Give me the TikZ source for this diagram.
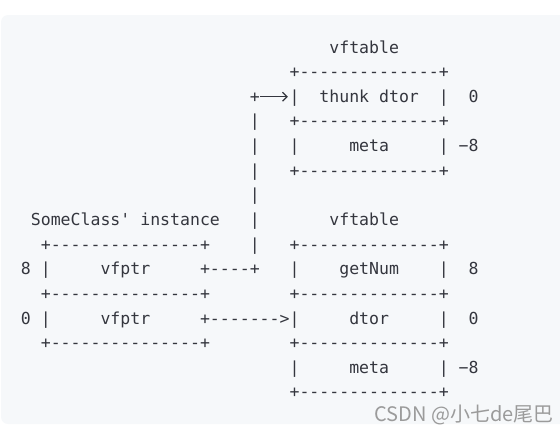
\documentclass[tikz,border=0pt]{standalone}
\usepackage{fontspec}
\newfontfamily\codefont[Ligatures=TeXOff]{DejaVu Sans Mono}
\newfontfamily\markfont{Noto Sans CJK SC}
\usetikzlibrary{arrows.meta}
\definecolor{codebg}{RGB}{246,248,250}
\definecolor{codefg}{RGB}{52,54,62}
\definecolor{markfg}{RGB}{155,155,155}

\begin{document}
\begin{tikzpicture}[x=1pt,y=-1pt,
  line/.style={anchor=base west,inner sep=0pt,text=codefg,font=\codefont\fontsize{16.53}{20}\selectfont},
  lig/.style={draw=codefg,line width=1.2pt,-{Straight Barb[length=4.5pt,width=9pt]}}]
  \def\xo{20.7};
  \def\yo{53};
  \def\dA{--------------};
  \def\dB{---------------};
  \useasboundingbox (0,0) rectangle (560,434);
  \fill[codebg,rounded corners=7pt] (1,15) rectangle (590,424);
  \begin{scope}[shift={(\xo,\yo)},x=9.95pt,y=-24.64pt]
  % upper vftable
  \node[line] (vtabA) at (31,0) {vftable};
  \node[line] (topA) at (27,1) {+\dA+};
  \node[line] (thunk) at (27,2) {|~~thunk~dtor~~|~~0};
  \node[line] (midA) at (27,3) {+\dA+};
  \node[line] (metaA) at (27,4) {|~~~~~meta~~~~~|~−8};
  \node[line] (botA) at (27,5) {+\dA+};
  % hook from the instance
  \node[line] (hook) at (23,2) {+};
  \foreach \r in {3,...,8}
    \node[line] (bar\r) at (23,\r) {|};
  \draw[lig,shorten <=0.5pt,shorten >=1.5pt] ([yshift=5.6pt]hook.base east) -- ([yshift=5.6pt]thunk.base west);
  % instance
  \node[line] (inst) at (1,7) {SomeClass'~instance};
  \node[line] (topI) at (2,8) {+\dB+};
  \node[line] (ptrA) at (0,9) {8~|~~~~~vfptr~~~~~+----+};
  \node[line] (midI) at (2,10) {+\dB+};
  \node[line] (ptrB) at (0,11) {0~|~~~~~vfptr~~~~~+------->};
  \node[line] (botI) at (2,12) {+\dB+};
  % lower vftable
  \node[line] (vtabB) at (31,7) {vftable};
  \node[line] (topB) at (27,8) {+\dA+};
  \node[line] (getnum) at (27,9) {|~~~~getNum~~~~|~~8};
  \node[line] (midB) at (27,10) {+\dA+};
  \node[line] (dtor) at (27,11) {|~~~~~dtor~~~~~|~~0};
  \node[line] (midC) at (27,12) {+\dA+};
  \node[line] (metaB) at (27,13) {|~~~~~meta~~~~~|~−8};
  \node[line] (botB) at (27,14) {+\dA+};
  \end{scope}
  \node[anchor=base east,inner sep=0pt,text=markfg,font=\markfont\fontsize{20}{22}\selectfont] (wm) at (554,421) {CSDN @小七de尾巴};
\end{tikzpicture}
\end{document}
